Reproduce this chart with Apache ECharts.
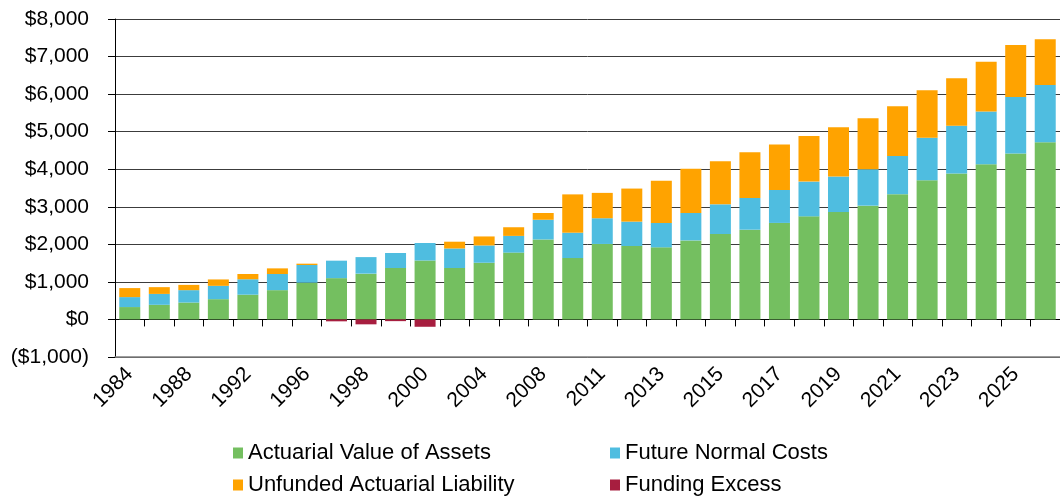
<!DOCTYPE html>
<html>
<head>
<meta charset="utf-8">
<title>Actuarial Values</title>
<script src="https://cdn.jsdelivr.net/npm/echarts@6/dist/echarts.min.js"></script>
<style>
	html, body { margin:0; padding:0; background:#fff; }
	#bar { width:1060px; height:502px; }
</style>
</head>
<body>
<div id="bar"></div>
<script>
//年份
var years = [
	"1984","1986","1988","1990","1992","1994","1996","1997","1998","1999","2000",
	"2002","2004","2006","2008","2010","2011","2012","2013","2014","2015","2016",
	"2017","2018","2019","2020","2021","2022","2023","2024","2025","2026"
];
//资产精算价值
var assets = [
	330, 390, 450, 540, 660, 780, 980, 1100, 1220, 1370, 1570,
	1370, 1510, 1780, 2130, 1635, 2010, 1955, 1920, 2105, 2275, 2390,
	2570, 2745, 2860, 3030, 3335, 3705, 3885, 4135, 4420, 4720
];
//未来正常成本
var normalCosts = [
	265, 290, 330, 355, 410, 430, 470, 465, 440, 400, 465,
	520, 460, 445, 525, 675, 685, 650, 650, 730, 790, 845,
	880, 925, 945, 970, 1020, 1130, 1270, 1405, 1500, 1520
];
//未备资金负债
var unfunded = [
	240, 180, 140, 170, 140, 150, 35, 0, 0, 0, 0,
	180, 240, 230, 180, 1020, 675, 880, 1120, 1175, 1150, 1220,
	1210, 1215, 1315, 1360, 1325, 1265, 1265, 1320, 1385, 1220
];
//资金盈余
var excess = [
	0, 0, 0, 0, 0, 0, 0, -50, -130, -45, -195,
	0, 0, 0, 0, 0, 0, 0, 0, 0, 0, 0,
	0, 0, 0, 0, 0, 0, 0, 0, 0, 0
];
//纵轴范围
var yMin = -1000;
var yMax = 8000;
var yStep = 1000;

var font = "'Liberation Sans', Arial, sans-serif";

function fmtMoney(v)
{
	var s = "$" + Math.abs(v).toLocaleString("en-US");
	return v < 0 ? "(" + s + ")" : s;
}

//单个图例
function legendItem(name, left, top)
{
	return {
		left: left,
		top: top,
		padding: 0,
		itemWidth: 10,
		itemHeight: 11,
		icon: 'rect',
		textStyle: { fontSize: 22, color: '#000', fontFamily: font },
		data: [name]
	};
}

//堆叠柱状图
function loadChartStack()
{
	var myChart = echarts.init(document.getElementById('bar'));

	var option = {
		animation : false,
		textStyle : { fontFamily: font },
		grid : {
			left: 115,
			top: 19,
			bottom: 145,
			right: -12
		},
		legend : [
			legendItem('Actuarial Value of Assets', 233, 442),
			legendItem('Future Normal Costs', 610, 442),
			legendItem('Unfunded Actuarial Liability', 233, 474),
			legendItem('Funding Excess', 610, 474)
		],
		xAxis : [
			{
				type: 'category',
				data: years,
				position: 'bottom',
				axisLine: { show: true, onZero: false, lineStyle: { color: '#7f7f7f', width: 1.5 } },
				axisTick: { show: false },
				axisLabel: {
					interval: 1,
					rotate: 45,
					margin: 14,
					fontSize: 21,
					color: '#000',
					fontFamily: font
				}
			},
			{
				//零线
				type: 'category',
				data: years,
				position: 'top',
				axisLine: { show: true, onZero: true, lineStyle: { color: '#000', width: 1 } },
				axisTick: { show: true, inside: true, length: 7, interval: 0, lineStyle: { color: '#000' } },
				axisLabel: { show: false }
			}
		],
		yAxis : [
			{
				type: 'value',
				min: yMin,
				max: yMax,
				interval: yStep,
				axisLine: { show: true, lineStyle: { color: '#000', width: 1 } },
				axisTick: { show: true, length: 7, lineStyle: { color: '#000' } },
				splitLine: { show: true, lineStyle: { color: '#3c3c3c', width: 1 } },
				axisLabel: {
					margin: 26,
					fontSize: 21,
					color: '#000',
					fontFamily: font,
					formatter: fmtMoney
				}
			}
		],
		series : [
			{
				name: 'Actuarial Value of Assets',
				type: 'bar',
				stack: 'total',
				barWidth: 21,
				itemStyle: { color: '#74BF60' },
				data: assets
			},
			{
				name: 'Future Normal Costs',
				type: 'bar',
				stack: 'total',
				barWidth: 21,
				itemStyle: { color: '#4FBDE0' },
				data: normalCosts
			},
			{
				name: 'Unfunded Actuarial Liability',
				type: 'bar',
				stack: 'total',
				barWidth: 21,
				itemStyle: { color: '#FFA300' },
				data: unfunded
			},
			{
				name: 'Funding Excess',
				type: 'bar',
				stack: 'total',
				barWidth: 21,
				itemStyle: { color: '#A71E3F' },
				data: excess
			}
		]
	};

	myChart.setOption(option);
}

loadChartStack();
</script>
</body>
</html>
